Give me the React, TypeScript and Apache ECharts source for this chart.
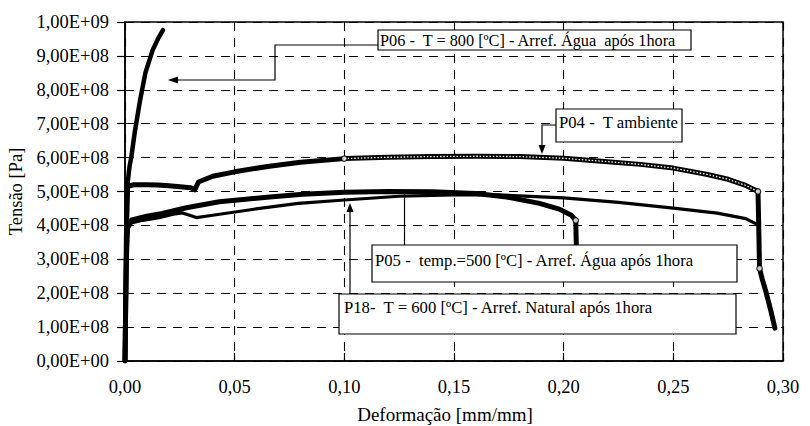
import { useEffect, useRef } from "react";
import * as echarts from "echarts";

// Tick labels
const xTickLabels = ["0,00", "0,05", "0,10", "0,15", "0,20", "0,25", "0,30"];
const yTickLabels = [
  "0,00E+00", "1,00E+08", "2,00E+08", "3,00E+08", "4,00E+08", "5,00E+08",
  "6,00E+08", "7,00E+08", "8,00E+08", "9,00E+08", "1,00E+09",
];

// [strain mm/mm, stress Pa]
const p06: [number, number][] = [
  [0, 0], [0.0008, 4.0e8], [0.0013, 5.3e8], [0.0021, 5.75e8], [0.0029, 6.02e8],
  [0.0044, 6.73e8], [0.0069, 7.7e8], [0.0093, 8.5e8], [0.0126, 9.17e8],
  [0.015, 9.5e8], [0.0173, 9.76e8],
];

const p04: [number, number][] = [
  [0, 0], [0.0008, 4.6e8], [0.0012, 5.15e8], [0.004, 5.2e8], [0.01, 5.2e8],
  [0.015, 5.19e8], [0.02, 5.17e8], [0.025, 5.14e8], [0.03, 5.11e8],
  [0.0318, 5.05e8], [0.0335, 5.28e8], [0.04, 5.45e8], [0.05, 5.58e8],
  [0.065, 5.74e8], [0.08, 5.86e8], [0.1, 5.97e8], [0.12, 6.01e8],
  [0.14, 6.03e8], [0.16, 6.04e8], [0.18, 6.03e8], [0.2, 5.98e8],
  [0.22, 5.88e8], [0.235, 5.8e8], [0.25, 5.69e8], [0.265, 5.51e8],
  [0.275, 5.36e8], [0.283, 5.18e8], [0.2886, 5.0e8], [0.2889, 4.1e8],
  [0.2893, 2.73e8], [0.2905, 2.42e8], [0.2922, 2.05e8], [0.2945, 1.47e8],
  [0.2963, 0.97e8],
];

const p05: [number, number][] = [
  [0, 0], [0.0006, 3.0e8], [0.0012, 3.95e8], [0.003, 4.16e8], [0.01, 4.27e8],
  [0.017, 4.35e8], [0.028, 4.52e8], [0.043, 4.7e8], [0.066, 4.84e8],
  [0.081, 4.92e8], [0.1, 4.98e8], [0.12, 5.0e8], [0.14, 4.99e8],
  [0.16, 4.94e8], [0.174, 4.84e8], [0.189, 4.65e8], [0.198, 4.48e8],
  [0.2035, 4.3e8], [0.2055, 4.15e8], [0.2058, 3.3e8],
];

const p18: [number, number][] = [
  [0, 0], [0.0006, 3.0e8], [0.001, 3.86e8], [0.003, 4.07e8], [0.008, 4.15e8],
  [0.0155, 4.23e8], [0.022, 4.33e8], [0.026, 4.37e8], [0.0295, 4.3e8],
  [0.0325, 4.23e8], [0.04, 4.3e8], [0.058, 4.47e8], [0.079, 4.65e8],
  [0.1, 4.75e8], [0.125, 4.86e8], [0.15, 4.9e8], [0.17, 4.9e8],
  [0.2, 4.81e8], [0.225, 4.68e8], [0.25, 4.51e8], [0.27, 4.36e8],
  [0.283, 4.2e8], [0.2882, 4.03e8],
];

const labelP06 = "P06 -  T = 800 [ºC] - Arref. Água  após 1hora";
const labelP04 = "P04 -  T ambiente";
const labelP05 = "P05 -  temp.=500 [ºC] - Arref. Água após 1hora";
const labelP18 = "P18-  T = 600 [ºC] - Arref. Natural após 1hora";

const FONT = "'Liberation Serif', 'Times New Roman', serif";

export default function App() {
  const ref = useRef<HTMLDivElement>(null);

  useEffect(() => {
    if (!ref.current) return;
    const chart = echarts.init(ref.current, null, { renderer: "svg" });

    const lineSeries = (name: string, data: [number, number][], width: number) => ({
      type: "line",
      name,
      data,
      symbol: "none",
      showSymbol: false,
      lineStyle: { color: "#000", width, join: "round", cap: "round" },
      itemStyle: { color: "#000" },
      z: 3,
    });

    const dotted = p04.filter(([x]) => x >= 0.1 && x <= 0.2886);
    const findX = (arr: [number, number][], x: number) => arr.find((p) => p[0] === x)!;
    const markers = [findX(p04, 0.1), findX(p04, 0.2886), findX(p04, 0.2893), findX(p05, 0.2055)];

    const boxStyle = { fill: "#fff", stroke: "#000", lineWidth: 1.2 };
    const textStyle = { fill: "#000", fontSize: 16.7, fontFamily: FONT, verticalAlign: "middle", align: "left" };
    const leader = { stroke: "#000", lineWidth: 1.2, fill: null };

    chart.setOption({
      animation: false,
      backgroundColor: "#fff",
      grid: {
        left: 125, right: 27, top: 22, bottom: 65,
        show: true, borderColor: "#000", borderWidth: 1.5,
        outerBoundsMode: "none",
      },
      xAxis: {
        type: "value", min: 0, max: 0.3, interval: 0.05,
        name: "Deformação [mm/mm]", nameLocation: "middle", nameGap: 44,
        nameTextStyle: { fontSize: 19, fontFamily: FONT, color: "#000", padding: [0, 18, 0, 0] },
        axisLine: { show: true, onZero: false, lineStyle: { color: "#000", width: 1.5 } },
        axisTick: { show: true, inside: true, length: 8, lineStyle: { color: "#000", width: 1.2 } },
        axisLabel: {
          margin: 16, fontSize: 18.5, fontFamily: FONT, color: "#000",
          formatter: (v: number) => xTickLabels[Math.round(v / 0.05)] ?? "",
        },
        splitLine: { show: true, lineStyle: { color: "#000", width: 1.1, type: [9, 7] } },
      },
      yAxis: {
        type: "value", min: 0, max: 1e9, interval: 1e8,
        name: "Tensão [Pa]", nameLocation: "middle", nameGap: 97,
        nameTextStyle: { fontSize: 18.5, fontFamily: FONT, color: "#000" },
        axisLine: { show: true, onZero: false, lineStyle: { color: "#000", width: 1.5 } },
        axisTick: { show: true, inside: false, length: 8, lineStyle: { color: "#000", width: 1.2 } },
        axisLabel: {
          margin: 16, fontSize: 18.5, fontFamily: FONT, color: "#000",
          formatter: (v: number) => yTickLabels[Math.round(v / 1e8)] ?? "",
        },
        splitLine: { show: true, lineStyle: { color: "#000", width: 1.1, type: [9, 7] } },
      },
      series: [
        lineSeries("P06", p06, 4.5),
        lineSeries("P04", p04, 5),
        lineSeries("P05", p05, 5),
        lineSeries("P18", p18, 3.2),
        {
          type: "line", name: "P04 pontos", data: dotted, symbol: "none", showSymbol: false,
          lineStyle: { color: "#fff", width: 1.3, type: [1.5, 1.8] }, z: 4, silent: true,
        },
        {
          type: "scatter", name: "marcadores", data: markers, symbol: "circle", symbolSize: 5.5,
          itemStyle: { color: "#fff", borderColor: "#000", borderWidth: 1.2 }, z: 5, silent: true,
        },
      ],
      graphic: [
        // P06
        { type: "polyline", z: 100, shape: { points: [[378, 45], [275, 45], [275, 80], [176, 80]] }, style: leader },
        { type: "polygon", z: 100, shape: { points: [[168, 80], [178, 76.5], [178, 83.5]] }, style: { fill: "#000" } },
        { type: "rect", z: 100, shape: { x: 378, y: 30, width: 313, height: 20 }, style: boxStyle },
        { type: "text", z: 101, style: { ...textStyle, fontSize: 16.3, text: labelP06, x: 380, y: 40.5 } },
        // P04
        { type: "polyline", z: 100, shape: { points: [[556, 125], [542, 125], [542, 148]] }, style: leader },
        { type: "polygon", z: 100, shape: { points: [[542, 154], [538.5, 145], [545.5, 145]] }, style: { fill: "#000" } },
        { type: "rect", z: 100, shape: { x: 556, y: 109, width: 126, height: 33 }, style: boxStyle },
        { type: "text", z: 101, style: { ...textStyle, text: labelP04, x: 559, y: 122 } },
        // P05
        { type: "polyline", z: 100, shape: { points: [[404.5, 245], [404.5, 193]] }, style: leader },
        { type: "rect", z: 100, shape: { x: 372, y: 245, width: 365, height: 37 }, style: boxStyle },
        { type: "text", z: 101, style: { ...textStyle, text: labelP05, x: 375, y: 260 } },
        // P18
        { type: "polyline", z: 100, shape: { points: [[350, 294], [350, 210]] }, style: leader },
        { type: "polygon", z: 100, shape: { points: [[350, 203], [346.5, 212], [353.5, 212]] }, style: { fill: "#000" } },
        { type: "rect", z: 100, shape: { x: 339, y: 294, width: 397, height: 40 }, style: boxStyle },
        { type: "text", z: 101, style: { ...textStyle, text: labelP18, x: 344, y: 307 } },
      ],
    });

    return () => chart.dispose();
  }, []);

  return (
    <div
      ref={ref}
      style={{ position: "absolute", left: 0, top: 0, width: 810, height: 426, background: "#fff" }}
    />
  );
}
